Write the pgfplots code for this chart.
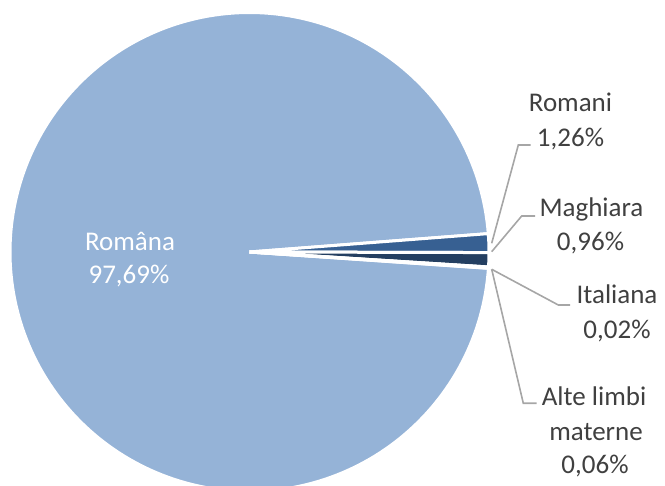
\documentclass[border=0pt]{standalone}
\usepackage{pgfplots}
\pgfplotsset{compat=1.18}
\usepackage{pgfplotstable}
\usepgfplotslibrary{polar}
\usepackage{fontspec}
\setmainfont{Carlito}
\definecolor{cRomana}{HTML}{95B3D7}
\definecolor{cRomani}{HTML}{376092}
\definecolor{cMaghiara}{HTML}{243F61}
\definecolor{cItaliana}{HTML}{B9CDE5}
\definecolor{cAlte}{HTML}{4F81BD}
\definecolor{txt}{HTML}{404040}
\definecolor{lead}{HTML}{A6A6A6}
\tikzset{lbl/.style={font=\fontsize{27}{33}\selectfont, anchor=base, inner sep=0pt}}
\pgfplotstableread{
name value
Romana 97.69
Romani 1.26
Maghiara 0.96
Italiana 0.02
Alte 0.06
}\piedata
\begin{document}
\begin{tikzpicture}
\pgfplotstablegetelem{0}{value}\of\piedata \let\vRomana\pgfplotsretval
\pgfplotstablegetelem{1}{value}\of\piedata \let\vRomani\pgfplotsretval
\pgfplotstablegetelem{2}{value}\of\piedata \let\vMaghiara\pgfplotsretval
\pgfplotstablegetelem{3}{value}\of\piedata \let\vItaliana\pgfplotsretval
\pgfplotstablegetelem{4}{value}\of\piedata \let\vAlte\pgfplotsretval
\pgfmathsetmacro\aA{4.4}
\pgfmathsetmacro\aB{\aA-3.6*\vRomani}
\pgfmathsetmacro\aC{\aB-3.6*\vMaghiara}
\pgfmathsetmacro\aD{\aC-3.6*\vItaliana}
\pgfmathsetmacro\aE{\aD-3.6*\vAlte}
\pgfmathsetmacro\aF{\aA+3.6*\vRomana}
\path[use as bounding box] (0,0) rectangle (665pt,486pt);
\begin{polaraxis}[
  at={(249.5pt,234pt)}, anchor=center,
  scale only axis, width=479pt, height=479pt,
  xmin=0, xmax=360, ymin=0, ymax=239.5,
  hide axis, clip=false,
  every axis plot/.append style={draw=white, line width=3pt, line join=miter}
]
\addplot[fill=cRomana, domain=\aA:\aF, samples=240] {239.5} -- (axis cs:0,0) -- cycle;
\addplot[fill=cRomani, domain=\aB:\aA, samples=6] {239.5} -- (axis cs:0,0) -- cycle;
\addplot[fill=cMaghiara, domain=\aC:\aB, samples=6] {239.5} -- (axis cs:0,0) -- cycle;
\addplot[fill=cItaliana, domain=\aD:\aC, samples=3] {239.5} -- (axis cs:0,0) -- cycle;
\addplot[fill=cAlte, domain=\aE:\aD, samples=3] {239.5} -- (axis cs:0,0) -- cycle;
\end{polaraxis}
\begin{axis}[
  at={(0,0)}, anchor=south west,
  scale only axis, width=665pt, height=486pt,
  xmin=0, xmax=665, ymin=0, ymax=486,
  hide axis, clip=false
]
% leader lines (y measured from top, converted)
\addplot[lead, line width=1.6pt, mark=none] coordinates {(491.7,242.7) (518.3,341) (530.7,341)};
\addplot[lead, line width=1.6pt, mark=none] coordinates {(491.7,234.3) (521.7,270) (535,270)};
\addplot[lead, line width=1.6pt, mark=none] coordinates {(491.7,216.7) (558.3,181) (570,181)};
\addplot[lead, line width=1.6pt, mark=none] coordinates {(491.7,216.7) (523.3,82.7) (536.7,82.7)};
% labels
\node[lbl, text=txt] at (axis cs:570.5,374.5) {Romani};
\node[lbl, text=txt] at (axis cs:570.5,339.5) {1,26\%};
\node[lbl, text=txt] at (axis cs:591.5,269.5) {Maghiara};
\node[lbl, text=txt] at (axis cs:590.5,235.5) {0,96\%};
\node[lbl, text=txt] at (axis cs:617,182.5) {Italiana};
\node[lbl, text=txt] at (axis cs:617,147.5) {0,02\%};
\node[lbl, text=txt] at (axis cs:594,80.5) {Alte limbi};
\node[lbl, text=txt] at (axis cs:596,45.5) {materne};
\node[lbl, text=txt] at (axis cs:595,12.5) {0,06\%};
\node[lbl, text=white] at (axis cs:130,235.5) {Româna};
\node[lbl, text=white] at (axis cs:129,202.5) {97,69\%};
\end{axis}
\end{tikzpicture}
\end{document}
